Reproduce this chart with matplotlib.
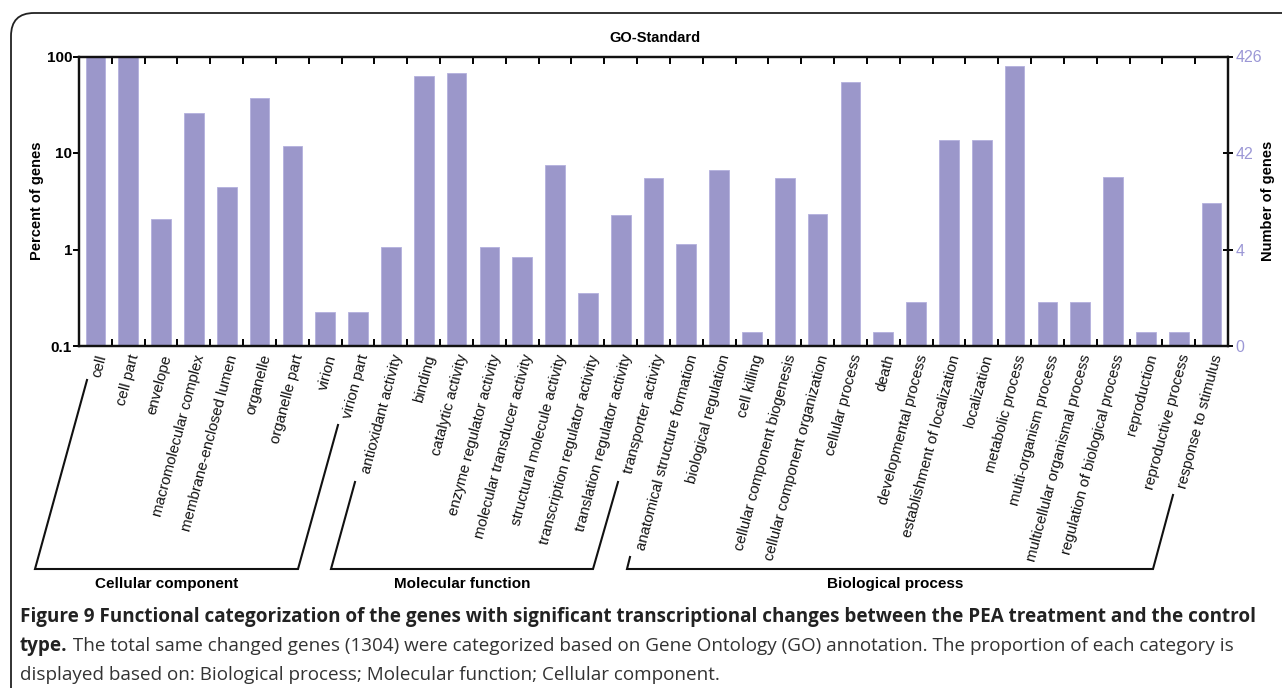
import matplotlib
matplotlib.use("Agg")
import matplotlib.pyplot as plt
from matplotlib.lines import Line2D
from matplotlib.patches import FancyBboxPatch
import numpy as np

# ---------------- data ----------------
categories = [
    "cell", "cell part", "envelope", "macromolecular complex", "membrane-enclosed lumen",
    "organelle", "organelle part", "virion", "virion part",
    "antioxidant activity", "binding", "catalytic activity", "enzyme regulator activity",
    "molecular transducer activity", "structural molecule activity",
    "transcription regulator activity", "translation regulator activity", "transporter activity",
    "anatomical structure formation", "biological regulation", "cell killing",
    "cellular component biogenesis", "cellular component organization", "cellular process",
    "death", "developmental process", "establishment of localization", "localization",
    "metabolic process", "multi-organism process", "multicellular organismal process",
    "regulation of biological process", "reproduction", "reproductive process",
    "response to stimulus",
]
percent_genes = [
    100, 100, 2.07, 25.8, 4.41, 36.9, 11.9, 0.226, 0.226,
    1.07, 62.8, 67.0, 1.07, 0.83, 7.45, 0.35, 2.28, 5.55,
    1.15, 6.67, 0.14, 5.55, 2.32, 54.8, 0.14, 0.286, 13.6, 13.6,
    80.0, 0.286, 0.286, 5.68, 0.14, 0.14, 3.01,
]
left_ticks = [0.1, 1, 10, 100]
left_tick_labels = ["0.1", "1", "10", "100"]
right_tick_labels = ["0", "4", "42", "426"]
groups = ["Cellular component", "Molecular function", "Biological process"]

title = "GO-Standard"
caption_bold1 = ("Figure 9 Functional categorization of the genes with significant "
                 "transcriptional changes between the PEA treatment and the control")
caption_bold2 = "type."
caption_rest2 = (" The total same changed genes (1304) were categorized based on Gene Ontology "
                 "(GO) annotation. The proportion of each category is")
caption_line3 = "displayed based on: Biological process; Molecular function; Cellular component."

# ---------------- style ----------------
W, H = 1282, 688
BAR = "#9B97CA"
LAV = "#9C98D6"
plt.rcParams["font.family"] = ["Liberation Sans", "DejaVu Sans"]

fig = plt.figure(figsize=(W / 100, H / 100), dpi=100)


def fx(px):
    return px / W


def fy(py):
    return 1 - py / H


# outer frame
frame = FancyBboxPatch((fx(11), fy(740)), fx(1330) - fx(11), fy(13) - fy(740),
                       boxstyle="round,pad=0,rounding_size=0.018",
                       transform=fig.transFigure, fill=False, ec="#222222", lw=1.3,
                       mutation_aspect=W / H)
fig.add_artist(frame)

left, right, top, bottom = 79, 1228, 56.5, 346
ax = fig.add_axes([fx(left), fy(bottom), fx(right) - fx(left), fy(top) - fy(bottom)])

x = np.arange(len(categories))
ax.bar(x, percent_genes, width=0.6, color=BAR, edgecolor="#B3B0DD", linewidth=0.6, zorder=2)
ax.set_yscale("log")
ax.set_ylim(0.1, 100)
ax.set_xlim(-0.5, len(categories) - 0.5)

for s in ax.spines.values():
    s.set_linewidth(1.6)
    s.set_color("#111111")

ax.set_yticks(left_ticks)
ax.set_yticklabels(left_tick_labels, fontsize=11, fontweight="bold")
ax.yaxis.set_minor_locator(matplotlib.ticker.NullLocator())
ax.tick_params(axis="y", which="major", direction="out", length=4, width=1.4, pad=1)
ax.set_ylabel("Percent of genes", fontsize=10.5, fontweight="bold")
ax.yaxis.set_label_coords((44 - left) / (right - left), 0.5)

ax.set_xticks(x)
ax.set_xticklabels(categories, rotation=75, ha="right", va="top",
                   rotation_mode="anchor", fontsize=10.8, color="#111111")
ax.tick_params(axis="x", which="major", length=0, pad=5)
ax.set_xticks(x[:-1] + 0.5, minor=True)
ax.tick_params(axis="x", which="minor", direction="in", length=5, width=1.4,
               top=True, bottom=True)

ax2 = ax.twinx()
ax2.set_yscale("log")
ax2.set_ylim(0.1, 100)
ax2.set_yticks(left_ticks)
ax2.set_yticklabels(right_tick_labels, fontsize=11.5, color=LAV)
ax2.yaxis.set_minor_locator(matplotlib.ticker.NullLocator())
ax2.tick_params(axis="y", which="major", direction="inout", length=7, width=1.4, pad=2)
ax2.set_ylabel("Number of genes", fontsize=10.5, fontweight="bold", rotation=90)
ax2.yaxis.set_label_coords((1261 - left) / (right - left), 0.5)
for s in ax2.spines.values():
    s.set_linewidth(1.6)
    s.set_color("#111111")

fig.text(fx(655), fy(38), title, fontsize=10.5, fontweight="bold", ha="center", va="center")

# group brackets (pixel layout)
brackets = [
    [(87, 380), (35, 569), (298, 569), (338, 425)],
    [(355, 482), (331, 569), (593, 569), (618, 482)],
    [(630, 557), (627, 569), (1153, 569), (1173, 495)],
]
for pts in brackets:
    xs = [fx(p[0]) for p in pts]
    ys = [fy(p[1]) for p in pts]
    fig.add_artist(Line2D(xs, ys, transform=fig.transFigure, color="#111111", lw=1.5,
                          solid_joinstyle="miter"))

group_x = [167, 462, 895]
for g, gx in zip(groups, group_x):
    fig.text(fx(gx), fy(584), g, fontsize=11, fontweight="bold", ha="center", va="center")

# caption
cap_font = ["Open Sans", "DejaVu Sans"]
CS = 13.6
fig.text(fx(20), fy(617), caption_bold1, fontsize=CS, fontweight="bold",
         family=cap_font, ha="left", va="center", color="#222222")
t2 = fig.text(fx(20), fy(646), caption_bold2, fontsize=CS, fontweight="bold",
              family=cap_font, ha="left", va="center", color="#222222")
fig.canvas.draw()
bb = t2.get_window_extent()
fig.text(bb.x1 / W, fy(646), caption_rest2, fontsize=CS, family=cap_font,
         ha="left", va="center", color="#333333")
fig.text(fx(20), fy(675), caption_line3, fontsize=CS, family=cap_font,
         ha="left", va="center", color="#333333")

fig.savefig("out.png", dpi=100)
